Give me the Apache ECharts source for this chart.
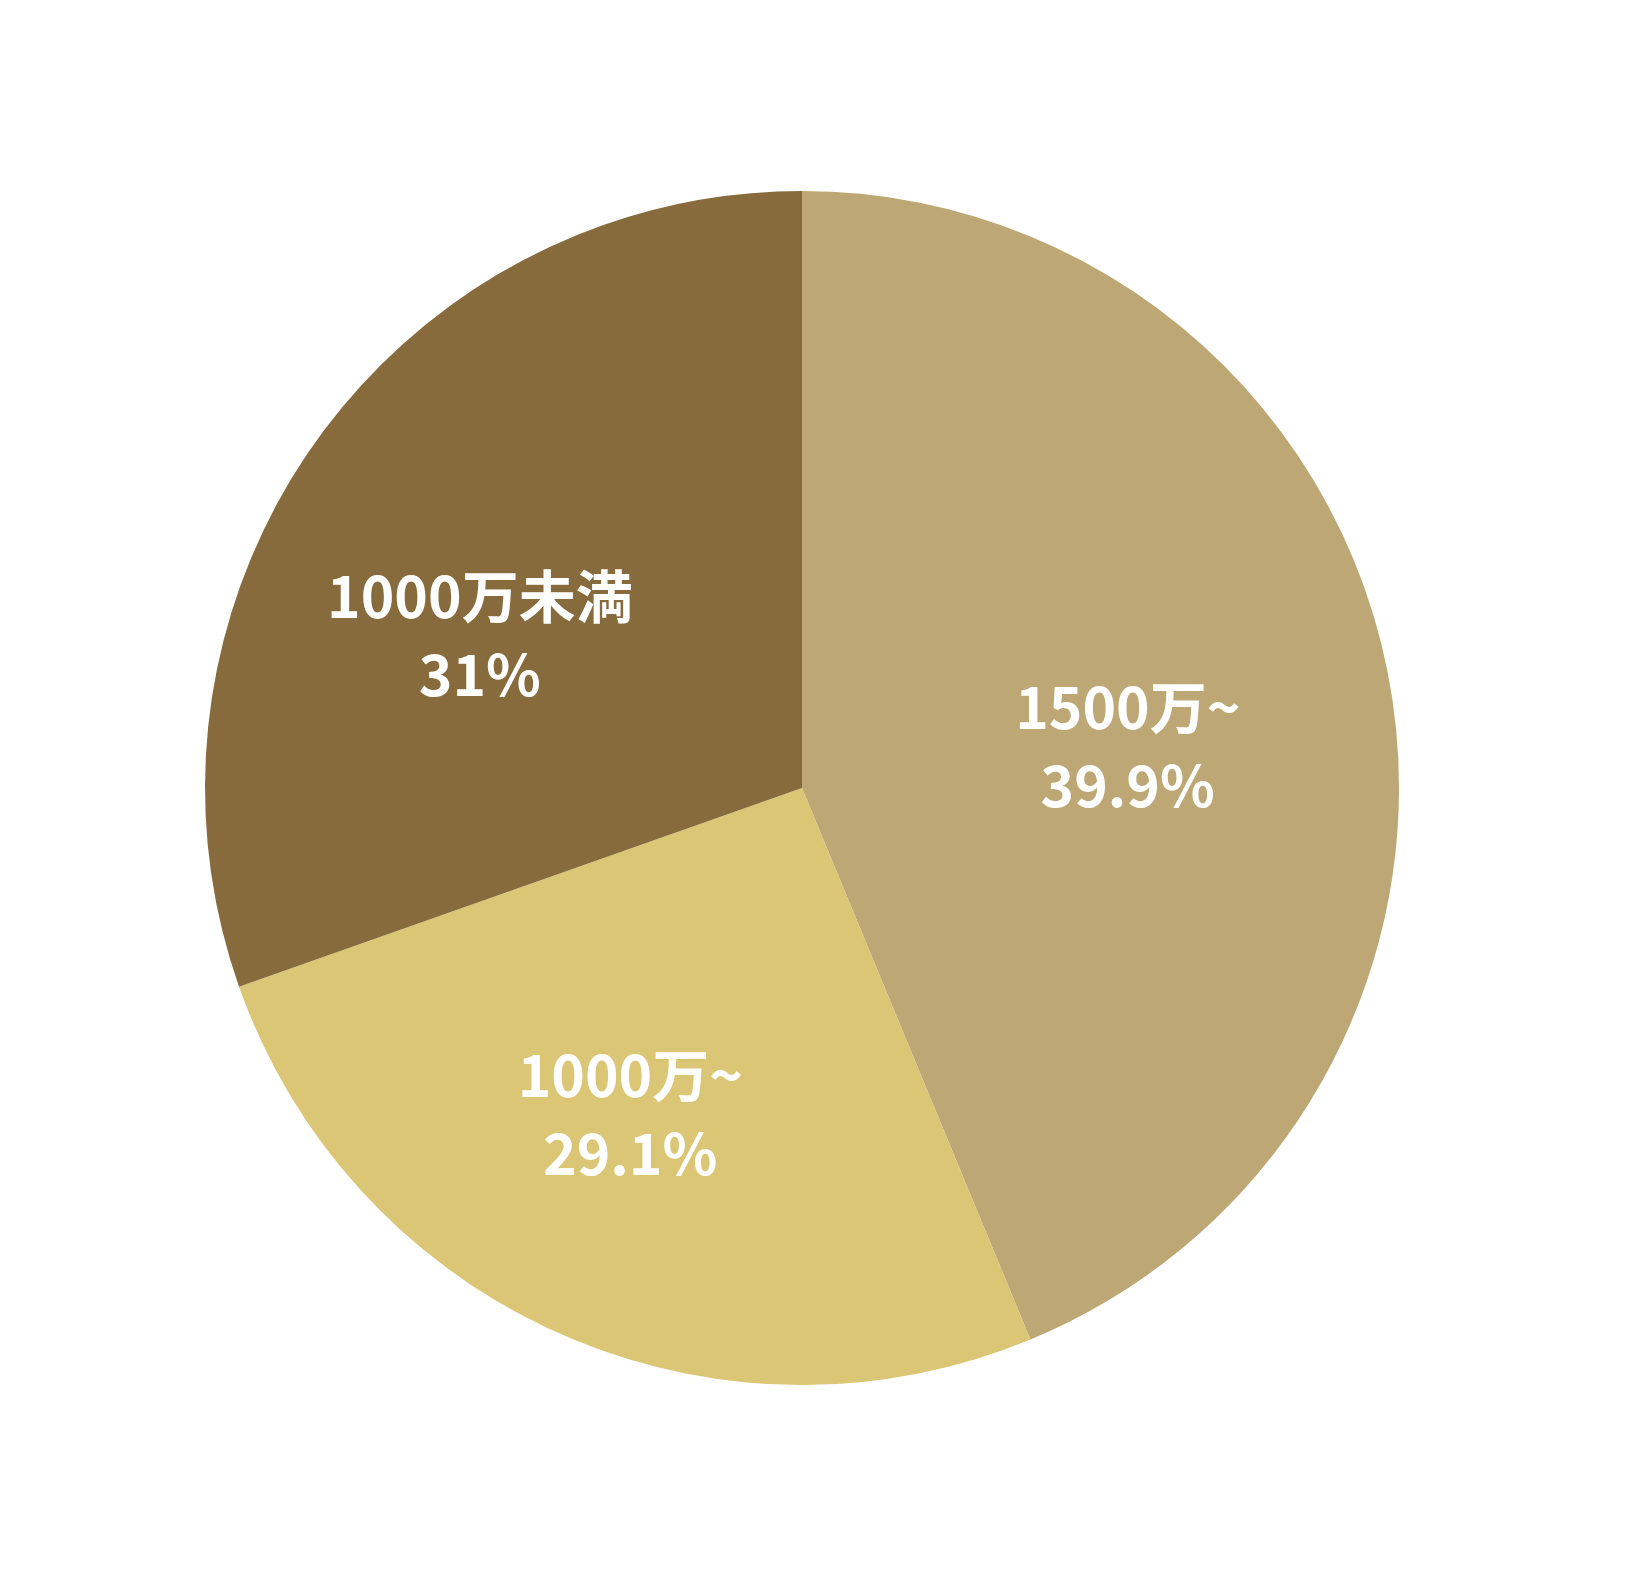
<!DOCTYPE html>
<html>
<head>
<meta charset="utf-8">
<script src="https://cdn.jsdelivr.net/npm/echarts@6/dist/echarts.min.js"></script>
<style>
html,body{margin:0;padding:0;background:#fff;}
#chart{width:1640px;height:1596px;}
</style>
</head>
<body>
<div id="chart"></div>
<script>
// Categories (clockwise from 12 o'clock)
const categories = ['1500万~', '1000万~', '1000万未満'];
// Slice sizes as drawn in the picture (share of the circle, %)
const sliceValues = [43.75, 25.85, 30.4];
// Percent texts printed on the slices
const percentLabels = ['39.9%', '29.1%', '31%'];

const colors = ['#BDA774', '#DBC675', '#886B3C'];
const labelNudge = [[30, 17], [-49, 51], [-76, 21]];

const chart = echarts.init(document.getElementById('chart'), null, {renderer: 'canvas'});
chart.setOption({
  backgroundColor: '#ffffff',
  animation: false,
  series: [{
    type: 'pie',
    center: [802, 788],
    radius: [0, 597],
    startAngle: 90,
    clockwise: true,
    avoidLabelOverlap: false,
    itemStyle: {borderWidth: 0},
    emphasis: {disabled: true},
    label: {
      show: true,
      position: 'inside',
      color: '#ffffff',
      fontFamily: '"Noto Sans CJK JP", "Noto Sans", sans-serif',
      fontWeight: 'bold',
      fontSize: 57,
      lineHeight: 78,
      align: 'center',
      formatter: p => p.name + '\n' + percentLabels[p.dataIndex]
    },
    labelLine: {show: false},
    data: categories.map((c, i) => ({
      name: c,
      value: sliceValues[i],
      itemStyle: {color: colors[i]},
      label: {offset: labelNudge[i]}
    }))
  }]
});
</script>
</body>
</html>
